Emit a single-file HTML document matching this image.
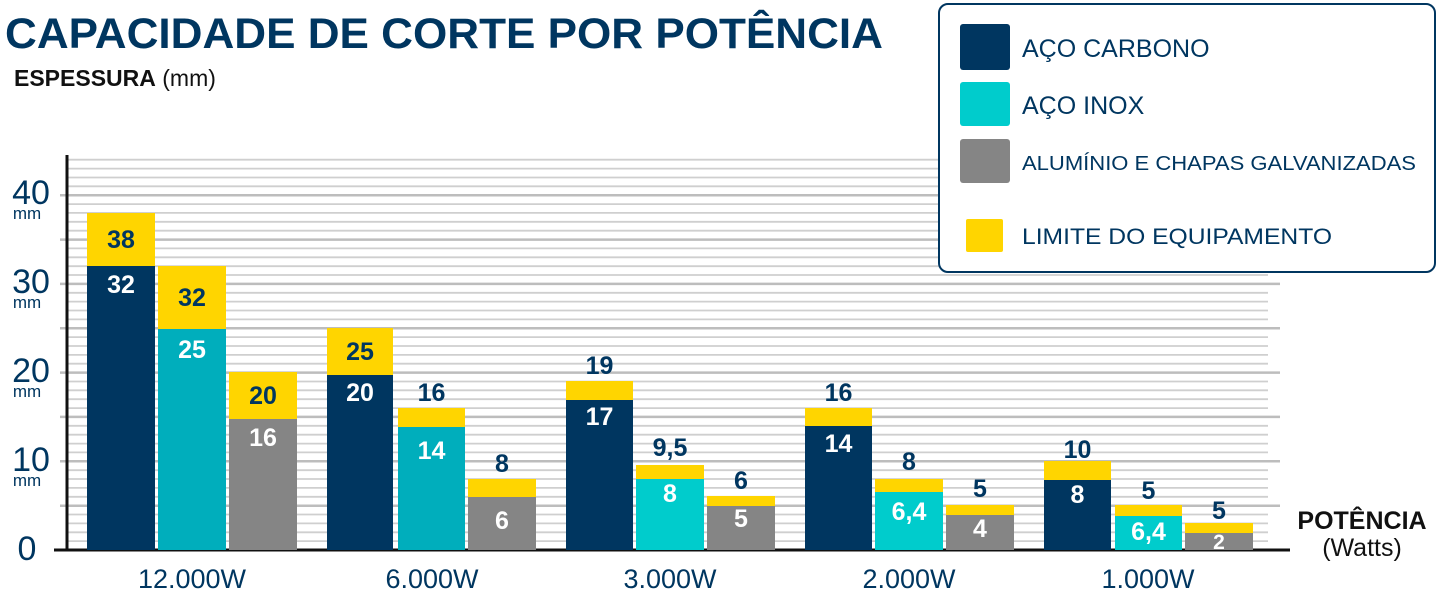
<!DOCTYPE html>
<html><head><meta charset="utf-8"><style>
html,body{margin:0;padding:0;background:#fff}
svg{display:block;font-family:"Liberation Sans",sans-serif}
</style></head><body>
<svg width="1437" height="597" viewBox="0 0 1437 597" xmlns="http://www.w3.org/2000/svg">
<path stroke="#cfcfcf" stroke-width="1.8" fill="none" d="M67 541.1H1268M67 532.3H1268M67 523.4H1268M67 514.5H1268M67 496.8H1268M67 487.9H1268M67 479H1268M67 470.2H1268M67 452.4H1268M67 443.6H1268M67 434.7H1268M67 425.8H1268M67 408.1H1268M67 399.2H1268M67 390.3H1268M67 381.5H1268M67 363.7H1268M67 354.9H1268M67 346H1268M67 337.1H1268M67 319.4H1268M67 310.5H1268M67 301.6H1268M67 292.8H1268M67 275H1268M67 266.2H1268M67 257.3H1268M67 248.4H1268M67 230.7H1268M67 221.8H1268M67 212.9H1268M67 204.1H1268M67 186.3H1268M67 177.5H1268M67 168.6H1268M67 159.7H1268"/>
<path stroke="#bdbdbd" stroke-width="2.5" fill="none" d="M60 505.7H1280M60 461.3H1280M60 416.9H1280M60 372.6H1280M60 328.3H1280M60 283.9H1280M60 239.6H1280M60 195.2H1280"/>
<line x1="67" y1="155" x2="67" y2="551" stroke="#111" stroke-width="3"/>
<line x1="54" y1="550" x2="1290" y2="550" stroke="#111" stroke-width="3"/>
<text x="5" y="48" font-size="43" font-weight="bold" fill="#003660" textLength="878" lengthAdjust="spacingAndGlyphs">CAPACIDADE DE CORTE POR POTÊNCIA</text>
<text x="14" y="86" font-size="23" fill="#111"><tspan font-weight="bold">ESPESSURA</tspan> (mm)</text>
<g fill="#003660" font-size="34" text-anchor="middle">
<text x="31" y="204">40</text><text x="31" y="293">30</text><text x="31" y="382">20</text><text x="31" y="471">10</text><text x="27" y="560">0</text>
</g>
<g fill="#003660" font-size="17" text-anchor="middle">
<text x="27" y="219">mm</text><text x="27" y="308">mm</text><text x="27" y="397">mm</text><text x="27" y="486">mm</text>
</g>
<g>
<rect x="87" y="213" width="68" height="53" fill="#FFD500"/><rect x="87" y="266" width="68" height="284" fill="#003660"/>
<rect x="158" y="266" width="68" height="63" fill="#FFD500"/><rect x="158" y="329" width="68" height="221" fill="#00AEBC"/>
<rect x="229" y="372" width="68" height="47" fill="#FFD500"/><rect x="229" y="419" width="68" height="131" fill="#858585"/>
<rect x="327" y="328" width="66" height="47" fill="#FFD500"/><rect x="327" y="375" width="66" height="175" fill="#003660"/>
<rect x="398" y="408" width="67" height="19" fill="#FFD500"/><rect x="398" y="427" width="67" height="123" fill="#00AEBC"/>
<rect x="468" y="479" width="68" height="18" fill="#FFD500"/><rect x="468" y="497" width="68" height="53" fill="#858585"/>
<rect x="566" y="381" width="67" height="19" fill="#FFD500"/><rect x="566" y="400" width="67" height="150" fill="#003660"/>
<rect x="636" y="465" width="68" height="14" fill="#FFD500"/><rect x="636" y="479" width="68" height="71" fill="#00CCCC"/>
<rect x="707" y="496" width="68" height="10" fill="#FFD500"/><rect x="707" y="506" width="68" height="44" fill="#858585"/>
<rect x="805" y="408" width="67" height="18" fill="#FFD500"/><rect x="805" y="426" width="67" height="124" fill="#003660"/>
<rect x="875" y="479" width="68" height="13" fill="#FFD500"/><rect x="875" y="492" width="68" height="58" fill="#00CCCC"/>
<rect x="946" y="505" width="68" height="10" fill="#FFD500"/><rect x="946" y="515" width="68" height="35" fill="#858585"/>
<rect x="1044" y="461" width="67" height="19" fill="#FFD500"/><rect x="1044" y="480" width="67" height="70" fill="#003660"/>
<rect x="1115" y="505" width="67" height="11" fill="#FFD500"/><rect x="1115" y="516" width="67" height="34" fill="#00CCCC"/>
<rect x="1185" y="523" width="68" height="10" fill="#FFD500"/><rect x="1185" y="533" width="68" height="17" fill="#858585"/>
</g>
<g font-size="25" font-weight="bold" fill="#003660" text-anchor="middle">
<text x="121" y="248">38</text><text x="192" y="306">32</text><text x="263" y="404">20</text><text x="360" y="360">25</text>
<text x="431.5" y="401">16</text><text x="502" y="472">8</text><text x="599.5" y="374">19</text><text x="670" y="456">9,5</text>
<text x="741" y="489">6</text><text x="838.5" y="401">16</text><text x="909" y="470">8</text><text x="980" y="497">5</text>
<text x="1077.5" y="458">10</text><text x="1148.5" y="499">5</text><text x="1219" y="519">5</text>
</g>
<g font-size="25" font-weight="bold" fill="#fff" text-anchor="middle">
<text x="121" y="293">32</text><text x="192" y="358">25</text><text x="263" y="446">16</text><text x="360" y="401">20</text>
<text x="431.5" y="459">14</text><text x="502" y="529">6</text><text x="599.5" y="425">17</text><text x="670" y="502">8</text>
<text x="741" y="527">5</text><text x="838.5" y="452">14</text><text x="909" y="520">6,4</text><text x="980" y="537">4</text>
<text x="1077.5" y="503">8</text><text x="1148.5" y="540">6,4</text><text x="1219" y="549" font-size="21">2</text>
</g>
<g fill="#003660" font-size="27" text-anchor="middle">
<text x="192" y="588">12.000W</text><text x="432" y="588">6.000W</text><text x="670" y="588">3.000W</text><text x="909" y="588">2.000W</text><text x="1148" y="588">1.000W</text>
</g>
<text x="1362" y="529" font-size="25" font-weight="bold" fill="#111" text-anchor="middle">POTÊNCIA</text>
<text x="1362" y="556" font-size="25" fill="#111" text-anchor="middle">(Watts)</text>
<rect x="939" y="4" width="496" height="268" rx="9" fill="#fff" stroke="#003660" stroke-width="2"/>
<rect x="960" y="24" width="50" height="46" rx="3" fill="#003660"/>
<rect x="960" y="82" width="50" height="44" rx="3" fill="#00CCCC"/>
<rect x="960" y="139" width="50" height="44" rx="3" fill="#858585"/>
<rect x="966" y="219" width="37" height="33" rx="2" fill="#FFD500"/>
<g fill="#003660">
<text x="1022" y="57" font-size="25">AÇO CARBONO</text>
<text x="1022" y="114" font-size="25">AÇO INOX</text>
<text x="1022" y="170" font-size="20" textLength="394" lengthAdjust="spacingAndGlyphs">ALUMÍNIO E CHAPAS GALVANIZADAS</text>
<text x="1022" y="244" font-size="22" textLength="310" lengthAdjust="spacingAndGlyphs">LIMITE DO EQUIPAMENTO</text>
</g>
</svg>
</body></html>
